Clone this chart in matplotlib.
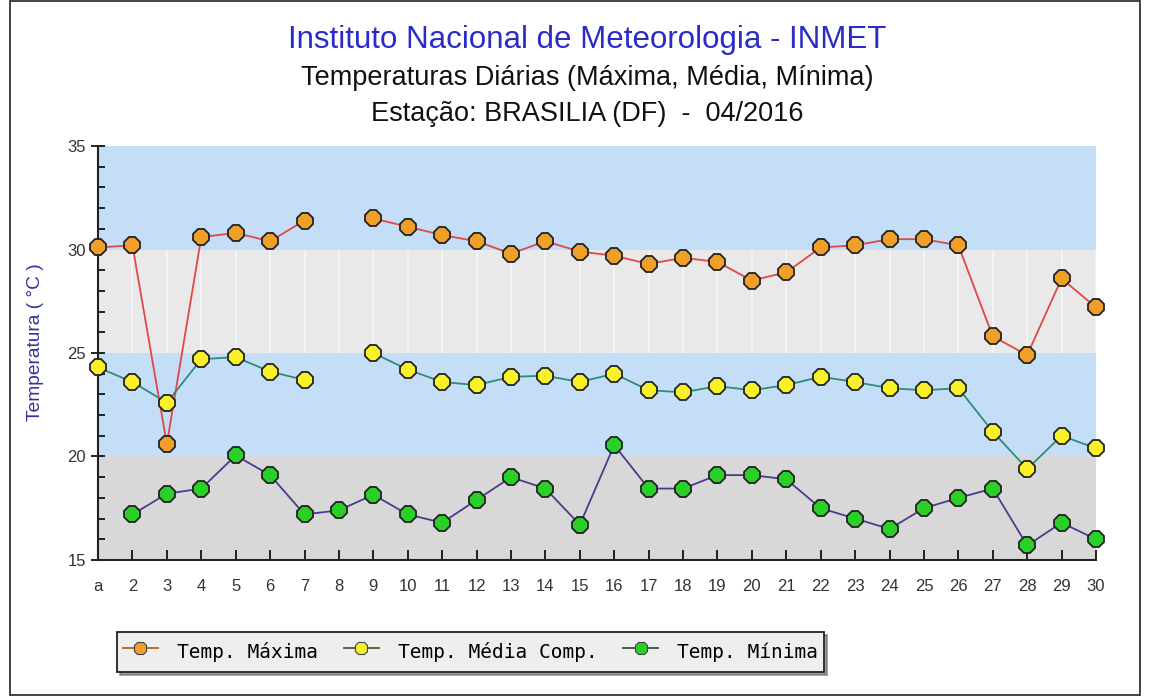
import numpy as np
import matplotlib.pyplot as plt

days = list(range(1, 31))
day_labels = ['a'] + [str(d) for d in range(2, 31)]

# None = no reading that day
temp_max = [30.1, 30.2, 20.6, 30.6, 30.8, 30.4, 31.4, None, 31.5, 31.1,
            30.7, 30.4, 29.8, 30.4, 29.9, 29.7, 29.3, 29.6, 29.4, 28.5,
            28.9, 30.1, 30.2, 30.5, 30.5, 30.2, 25.8, 24.9, 28.6, 27.2]
temp_med = [24.3, 23.6, 22.6, 24.7, 24.8, 24.1, 23.7, None, 25.0, 24.2,
            23.6, 23.45, 23.85, 23.9, 23.6, 24.0, 23.2, 23.1, 23.4, 23.2,
            23.45, 23.85, 23.6, 23.3, 23.2, 23.3, 21.2, 19.4, 21.0, 20.4]
temp_min = [None, 17.2, 18.2, 18.45, 20.05, 19.1, 17.2, 17.4, 18.15, 17.2,
            16.8, 17.9, 19.0, 18.45, 16.7, 20.55, 18.45, 18.45, 19.1, 19.1,
            18.9, 17.5, 17.0, 16.5, 17.5, 18.0, 18.45, 15.7, 16.8, 16.0]

bands = [(15, 20, '#d8d8d8'), (20, 25, '#c4def8'), (25, 30, '#e9e9e9'), (30, 35, '#c4def8')]

def arr(v):
    return np.array([np.nan if x is None else x for x in v], dtype=float)

fig = plt.figure(figsize=(11.52, 6.97), dpi=100)
ax = fig.add_axes([0.0851, 0.1966, 0.8663, 0.5939])

for lo, hi, c in bands:
    ax.axhspan(lo, hi, color=c, zorder=0, lw=0)
ax.vlines(days, 25, 30, colors='#f6f6f6', lw=1.2, zorder=0.5)

series = [
    (temp_max, 'Temp. Máxima', '#e04848', '#f0a028', '#b86010'),
    (temp_med, 'Temp. Média Comp.', '#2e8c74', '#f8f028', '#555533'),
    (temp_min, 'Temp. Mínima', '#4a3c8c', '#28d028', '#335533'),
]
handles = []
leg_h = []
for vals, lab, lc, mc, hc in series:
    h, = ax.plot(days, arr(vals), color=lc, lw=1.3, marker='8', ms=12,
                 mfc=mc, mec='#222222', mew=1.3, clip_on=False, zorder=3, label=lab)
    handles.append(h)
    leg_h.append(plt.Line2D([], [], color=hc, lw=1.3, marker='8', ms=10,
                            mfc=mc, mec='#444444', mew=0.8))

ax.set_xlim(1, 30)
ax.set_ylim(15, 35)
ax.set_xticks(days)
ax.set_xticklabels(day_labels)
ax.set_yticks([15, 20, 25, 30, 35])
ax.set_yticks(np.arange(15, 35, 1), minor=True)
for s in ['top', 'right']:
    ax.spines[s].set_visible(False)
for s in ['left', 'bottom']:
    ax.spines[s].set_color('#222222')
    ax.spines[s].set_linewidth(1.5)
ax.tick_params(axis='x', direction='in', length=7, width=1.2, labelsize=12,
               labelcolor='#333333', pad=14)
ax.tick_params(axis='y', which='major', direction='inout', length=10, width=1.2,
               labelsize=12, labelcolor='#333333')
ax.tick_params(axis='y', which='minor', direction='in', length=5, width=1.2)
for t in ax.get_xticklabels() + ax.get_yticklabels():
    t.set_family('Liberation Sans')

ax.set_ylabel('Temperatura ( °C )', color='#333399', fontsize=13.8,
              family='Liberation Sans')
ax.yaxis.set_label_coords(-0.054, 0.527)

fig.text(0.510, 0.942, 'Instituto Nacional de Meteorologia - INMET', ha='center', va='center',
         color='#2b2bc8', fontsize=22.5, family='Liberation Sans')
fig.text(0.510, 0.888, 'Temperaturas Diárias (Máxima, Média, Mínima)', ha='center', va='center',
         color='#111111', fontsize=19.5, family='Liberation Sans')
fig.text(0.510, 0.836, 'Estação: BRASILIA (DF)  -  04/2016', ha='center', va='center',
         color='#111111', fontsize=19.5, family='Liberation Sans')

leg = fig.legend(leg_h, [h.get_label() for h in handles], loc='upper left',
                 bbox_to_anchor=(117 / 1152, 1 - 632 / 697), bbox_transform=fig.transFigure,
                 ncol=3, frameon=True, fancybox=False, shadow=True,
                 prop={'family': 'DejaVu Sans Mono', 'size': 14},
                 handlelength=1.8, handleheight=1.9, columnspacing=1.3, handletextpad=1.0,
                 borderpad=0.3, borderaxespad=0)
leg.get_frame().set_edgecolor('#222222')
leg.get_frame().set_facecolor('#eeeeee')
leg.get_frame().set_linewidth(1.3)

border = plt.Rectangle((10 / 1152, 2 / 697), 1130 / 1152, 694 / 697, transform=fig.transFigure,
                       fill=False, edgecolor='#222222', lw=1.2)
fig.patches.append(border)

fig.savefig('out.png', dpi=100)
